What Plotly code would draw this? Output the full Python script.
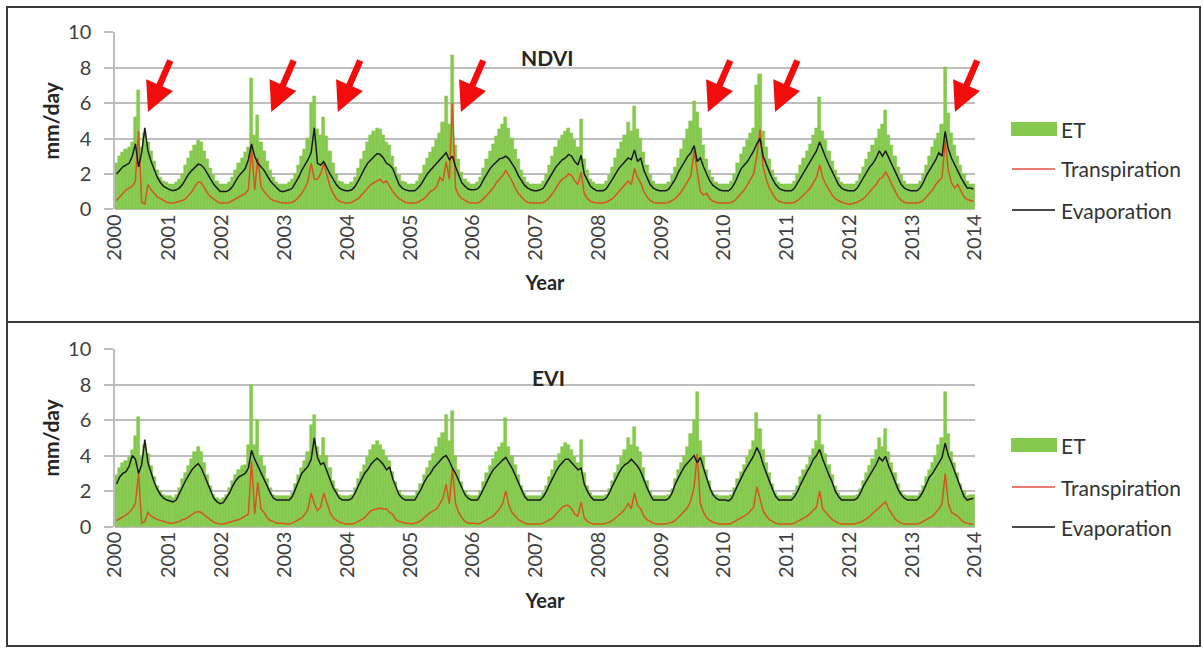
import plotly.graph_objects as go

# ---------------- data (8-day-ish composites) ----------------
year_labels = ["2000", "2001", "2002", "2003", "2004", "2005", "2006", "2007",
               "2008", "2009", "2010", "2011", "2012", "2013", "2014"]
points_per_year = [17, 17, 20, 20, 20, 20, 20, 20, 20, 20, 20, 20, 20, 20]

ndvi_et = [
    2.6, 3.0, 3.2, 3.4, 3.5, 3.8, 5.2, 6.7, 3.5, 4.3, 3.8, 3.3, 2.7, 2.2, 1.8, 1.6, 1.5,
    1.4, 1.4, 1.5, 1.7, 2.0, 2.5, 2.9, 3.3, 3.6, 3.9, 3.8, 3.3, 2.8, 2.3, 1.9, 1.6, 1.4,
    1.4, 1.4, 1.5, 1.8, 2.2, 2.6, 2.9, 3.2, 3.5, 7.4, 4.2, 5.3, 3.8, 3.3, 2.7, 2.2, 1.8, 1.5, 1.4, 1.4,
    1.4, 1.5, 1.7, 2.0, 2.5, 3.0, 3.4, 4.0, 6.0, 6.4, 4.5, 4.2, 5.2, 4.1, 3.3, 2.6, 2.0, 1.6, 1.5, 1.4,
    1.4, 1.5, 1.8, 2.3, 2.8, 3.3, 3.8, 4.2, 4.4, 4.6, 4.5, 4.2, 3.8, 3.6, 3.0, 2.4, 1.9, 1.6, 1.5, 1.4,
    1.4, 1.4, 1.6, 2.0, 2.5, 2.9, 3.2, 3.5, 3.9, 4.3, 4.9, 6.4, 4.8, 8.7, 3.6, 2.8, 2.1, 1.7, 1.5, 1.4,
    1.4, 1.5, 1.8, 2.3, 2.8, 3.3, 3.7, 4.1, 4.5, 4.8, 5.2, 4.6, 4.0, 3.4, 2.8, 2.2, 1.8, 1.5, 1.4, 1.4,
    1.4, 1.4, 1.6, 2.0, 2.5, 3.0, 3.5, 3.9, 4.2, 4.4, 4.6, 4.3, 3.9, 3.5, 5.1, 2.8, 2.2, 1.7, 1.5, 1.4,
    1.4, 1.4, 1.6, 1.9, 2.4, 2.9, 3.4, 3.8, 4.2, 4.9, 4.4, 5.8, 4.5, 4.0, 3.2, 2.5, 1.9, 1.6, 1.4, 1.4,
    1.4, 1.4, 1.5, 1.9, 2.4, 2.9, 3.4, 3.9, 4.5, 5.0, 6.1, 5.5, 4.6, 3.6, 2.8, 2.2, 1.8, 1.5, 1.4, 1.4,
    1.4, 1.4, 1.6, 2.0, 2.6, 3.1, 3.5, 3.9, 4.3, 4.6, 7.0, 7.6, 4.4, 3.5, 2.8, 2.2, 1.8, 1.5, 1.4, 1.4,
    1.4, 1.4, 1.6, 2.0, 2.5, 2.9, 3.3, 3.7, 4.2, 4.6, 6.3, 4.4, 3.9, 3.3, 2.7, 2.2, 1.8, 1.5, 1.4, 1.4,
    1.4, 1.4, 1.6, 2.0, 2.4, 2.8, 3.2, 3.6, 4.0, 4.5, 4.8, 5.6, 4.2, 3.6, 3.0, 2.4, 1.9, 1.6, 1.4, 1.4,
    1.4, 1.4, 1.6, 2.0, 2.5, 3.0, 3.5, 3.9, 4.3, 4.8, 8.0, 5.4, 4.3, 3.6, 3.0, 2.5, 2.0, 1.6, 1.4, 1.4,
]
ndvi_t = [
    0.5, 0.7, 0.9, 1.1, 1.2, 1.3, 1.6, 4.4, 0.4, 0.3, 1.4, 1.1, 0.9, 0.7, 0.6, 0.5, 0.4,
    0.35, 0.35, 0.4, 0.45, 0.5, 0.6, 0.8, 1.0, 1.3, 1.55, 1.5, 1.2, 0.9, 0.7, 0.55, 0.45, 0.35,
    0.35, 0.35, 0.4, 0.5, 0.6, 0.7, 0.8, 0.9, 1.1, 3.5, 1.1, 2.9, 1.3, 1.0, 0.8, 0.6, 0.5, 0.45, 0.4, 0.35,
    0.35, 0.35, 0.4, 0.5, 0.7, 0.9, 1.2, 1.6, 2.6, 1.7, 1.7, 2.0, 2.6, 1.9, 1.3, 0.9, 0.6, 0.45, 0.4, 0.35,
    0.35, 0.4, 0.5, 0.6, 0.8, 1.0, 1.2, 1.4, 1.5, 1.6, 1.7, 1.5, 1.6, 1.3, 1.0, 0.8, 0.6, 0.5, 0.4, 0.35,
    0.35, 0.35, 0.4, 0.5, 0.6, 0.8, 1.0, 1.1, 1.3, 1.8, 1.6, 2.7, 1.7, 6.0, 1.2, 0.8, 0.6, 0.5, 0.4, 0.35,
    0.35, 0.35, 0.45, 0.6, 0.8, 1.0, 1.2, 1.5, 1.7, 1.9, 2.2, 1.9, 1.6, 1.2, 0.9, 0.7, 0.5, 0.4, 0.35, 0.35,
    0.35, 0.35, 0.4, 0.5, 0.7, 0.9, 1.2, 1.5, 1.7, 1.8, 2.0, 1.9, 1.6, 1.4, 2.1, 0.9, 0.6, 0.45, 0.4, 0.35,
    0.35, 0.35, 0.4, 0.5, 0.6, 0.8, 1.0, 1.2, 1.4, 1.6, 1.4, 2.3, 1.8, 1.5, 1.0, 0.7, 0.5, 0.4, 0.35, 0.35,
    0.35, 0.35, 0.4, 0.5, 0.6, 0.8, 1.0, 1.3, 1.6, 1.9, 3.3, 2.0, 1.0, 0.8, 0.9, 0.6, 0.45, 0.4, 0.35, 0.35,
    0.35, 0.35, 0.4, 0.5, 0.7, 0.9, 1.1, 1.4, 1.7, 2.0, 3.0, 4.5, 2.4, 1.7, 1.2, 0.9, 0.6, 0.45, 0.4, 0.35,
    0.35, 0.35, 0.4, 0.5, 0.65, 0.8, 1.0, 1.2, 1.5, 1.8, 2.5, 1.8, 1.4, 1.1, 0.8, 0.6, 0.5, 0.4, 0.35, 0.3,
    0.3, 0.35, 0.4, 0.5, 0.6, 0.8, 1.0, 1.2, 1.4, 1.7, 1.8, 2.1, 1.8, 1.4, 1.0, 0.7, 0.5, 0.4, 0.35, 0.35,
    0.35, 0.35, 0.4, 0.5, 0.7, 0.9, 1.1, 1.4, 1.6, 1.8, 3.9, 2.2, 1.5, 1.2, 1.4, 1.0, 0.7, 0.55, 0.5, 0.45,
]
ndvi_e = [
    2.0, 2.2, 2.4, 2.5, 2.6, 3.0, 3.7, 2.4, 3.2, 4.6, 3.3, 2.7, 2.2, 1.8, 1.5, 1.3, 1.2,
    1.1, 1.05, 1.1, 1.2, 1.4, 1.7, 2.0, 2.2, 2.4, 2.55, 2.5, 2.3, 2.0, 1.7, 1.4, 1.2, 1.0,
    1.0, 1.0, 1.1, 1.3, 1.6, 1.9, 2.1, 2.3, 2.8, 3.7, 3.0, 2.6, 2.4, 2.2, 1.9, 1.6, 1.4, 1.2, 1.05, 1.0,
    1.05, 1.1, 1.2, 1.5, 1.8, 2.2, 2.5, 2.8, 3.2, 4.6, 2.6, 2.5, 2.7, 2.3, 2.0, 1.7, 1.4, 1.2, 1.1, 1.05,
    1.05, 1.1, 1.3, 1.6, 2.0, 2.3, 2.6, 2.8, 3.0, 3.15, 3.1, 2.9, 2.6, 2.5, 2.3, 1.8, 1.4, 1.2, 1.1, 1.05,
    1.05, 1.05, 1.2, 1.4, 1.7, 2.0, 2.2, 2.4, 2.6, 2.8, 3.0, 3.2, 2.8, 3.0, 2.4, 1.9, 1.5, 1.3, 1.15, 1.1,
    1.1, 1.15, 1.35, 1.7, 2.0, 2.3, 2.5, 2.7, 2.85, 2.9, 3.0, 2.85, 2.6, 2.3, 1.9, 1.6, 1.35, 1.2, 1.1, 1.05,
    1.05, 1.1, 1.2, 1.5, 1.8, 2.1, 2.4, 2.6, 2.8, 2.9, 3.1, 3.0, 2.7, 2.5, 3.05, 2.0, 1.6, 1.3, 1.15, 1.05,
    1.05, 1.05, 1.15, 1.4, 1.7, 2.0, 2.3, 2.5, 2.7, 2.9, 2.8, 3.35, 2.7, 2.9, 2.2, 1.8, 1.4, 1.2, 1.1, 1.05,
    1.05, 1.05, 1.15, 1.4, 1.7, 2.1, 2.4, 2.7, 3.0, 3.2, 3.6, 2.7, 2.9, 2.4, 2.0, 1.6, 1.35, 1.2, 1.1, 1.05,
    1.05, 1.05, 1.2, 1.5, 1.9, 2.3, 2.5, 2.7, 3.0, 3.3, 3.7, 4.0, 3.0, 2.5, 2.1, 1.7, 1.4, 1.2, 1.1, 1.05,
    1.05, 1.05, 1.2, 1.5, 1.8, 2.1, 2.4, 2.7, 3.0, 3.3, 3.8, 3.3, 2.9, 2.5, 2.1, 1.7, 1.4, 1.2, 1.1, 1.05,
    1.05, 1.05, 1.2, 1.5, 1.8, 2.1, 2.4, 2.6, 2.9, 3.3, 3.0, 3.3, 2.9, 2.5, 2.1, 1.7, 1.4, 1.2, 1.1, 1.05,
    1.05, 1.05, 1.2, 1.5, 1.9, 2.2, 2.5, 2.8, 3.2, 3.0, 4.4, 3.4, 2.9, 2.5, 2.1, 1.8, 1.5, 1.2, 1.2, 1.15,
]

evi_et = [
    2.9, 3.3, 3.6, 3.7, 3.9, 4.3, 5.1, 6.2, 4.0, 4.6, 4.1, 3.4, 2.8, 2.3, 2.0, 1.8, 1.7,
    1.7, 1.6, 1.8, 2.2, 2.7, 3.0, 3.4, 3.8, 4.2, 4.5, 4.2, 3.6, 2.9, 2.3, 1.8, 1.6, 1.5,
    1.6, 1.8, 2.2, 2.6, 2.9, 3.2, 3.4, 3.5, 4.6, 8.0, 4.6, 6.0, 4.0, 3.4, 2.7, 2.2, 1.8, 1.7, 1.7, 1.7,
    1.7, 1.7, 1.9, 2.4, 2.9, 3.3, 3.7, 4.2, 5.7, 6.3, 4.5, 4.0, 5.0, 4.0, 3.3, 2.6, 2.1, 1.8, 1.7, 1.7,
    1.7, 1.8, 2.2, 2.7, 3.1, 3.5, 3.9, 4.3, 4.6, 4.8, 4.6, 4.3, 3.9, 3.7, 3.1, 2.5, 2.0, 1.8, 1.7, 1.7,
    1.7, 1.7, 2.0, 2.4, 2.9, 3.3, 3.7, 4.1, 4.5, 5.0, 5.3, 6.3, 4.8, 6.5, 4.0, 3.2, 2.5, 2.0, 1.8, 1.7,
    1.7, 1.7, 2.0, 2.5, 3.0, 3.4, 3.8, 4.2, 4.5, 4.7, 6.1, 4.5, 4.0, 3.5, 2.9, 2.3, 1.9, 1.7, 1.7, 1.7,
    1.7, 1.7, 1.9, 2.3, 2.8, 3.2, 3.7, 4.1, 4.5, 4.7, 4.6, 4.3, 3.9, 3.6, 4.9, 3.0, 2.3, 1.9, 1.7, 1.7,
    1.7, 1.7, 1.8, 2.1, 2.6, 3.0, 3.5, 3.9, 4.3, 5.0, 4.6, 5.6, 4.5, 4.2, 3.3, 2.6, 2.0, 1.7, 1.7, 1.7,
    1.7, 1.7, 1.8, 2.1, 2.7, 3.2, 3.6, 4.0, 4.5, 5.2, 6.0, 7.6, 4.8, 4.0, 3.2, 2.6, 2.0, 1.8, 1.7, 1.7,
    1.7, 1.7, 1.8, 2.2, 2.7, 3.1, 3.5, 3.9, 4.3, 4.8, 6.4, 5.5, 4.3, 3.6, 3.0, 2.4, 1.9, 1.7, 1.7, 1.7,
    1.7, 1.7, 1.9, 2.3, 2.8, 3.2, 3.5, 3.9, 4.4, 4.8, 6.3, 4.6, 4.1, 3.5, 2.9, 2.3, 1.9, 1.7, 1.7, 1.7,
    1.7, 1.7, 1.8, 2.1, 2.6, 3.0, 3.4, 3.8, 4.3, 5.0, 4.5, 5.5, 4.2, 3.6, 3.0, 2.4, 2.0, 1.8, 1.7, 1.7,
    1.7, 1.7, 1.9, 2.3, 2.8, 3.2, 3.6, 4.0, 4.6, 5.0, 7.6, 5.2, 4.2, 3.6, 3.0, 2.4, 2.0, 1.7, 1.8, 1.8,
]
evi_t = [
    0.35, 0.45, 0.55, 0.65, 0.8, 1.0, 1.3, 3.0, 0.2, 0.3, 0.8, 0.6, 0.5, 0.4, 0.35, 0.3, 0.25,
    0.2, 0.2, 0.25, 0.3, 0.4, 0.45, 0.55, 0.7, 0.8, 0.85, 0.8, 0.65, 0.5, 0.35, 0.25, 0.2, 0.15,
    0.15, 0.2, 0.25, 0.3, 0.35, 0.4, 0.5, 0.6, 0.7, 3.7, 0.7, 2.5, 1.0, 0.8, 0.5, 0.35, 0.3, 0.2, 0.2, 0.2,
    0.15, 0.15, 0.2, 0.3, 0.4, 0.5, 0.7, 1.0, 1.9, 1.3, 0.9, 1.1, 1.9, 1.3, 0.8, 0.5, 0.35, 0.25, 0.2, 0.15,
    0.15, 0.15, 0.2, 0.3, 0.4, 0.5, 0.7, 0.9, 0.95, 1.0, 1.05, 1.0, 1.0, 0.8, 0.7, 0.4, 0.3, 0.25, 0.2, 0.2,
    0.15, 0.2, 0.25, 0.35, 0.5, 0.7, 0.8, 0.9, 1.0, 1.3, 1.6, 2.4, 1.3, 3.3, 1.3, 0.8, 0.5, 0.3, 0.2, 0.2,
    0.2, 0.15, 0.2, 0.3, 0.4, 0.5, 0.6, 0.8, 1.0, 1.3, 2.0, 1.2, 0.8, 0.6, 0.4, 0.3, 0.2, 0.15, 0.15, 0.15,
    0.15, 0.15, 0.2, 0.3, 0.4, 0.5, 0.7, 0.9, 1.1, 1.2, 1.2, 1.0, 0.7, 0.6, 1.4, 0.5, 0.3, 0.2, 0.15, 0.15,
    0.15, 0.15, 0.2, 0.25, 0.35, 0.5, 0.6, 0.8, 1.0, 1.3, 1.0, 1.9, 1.2, 1.0, 0.6, 0.4, 0.3, 0.2, 0.15, 0.15,
    0.15, 0.15, 0.2, 0.25, 0.35, 0.5, 0.7, 0.9, 1.1, 1.5, 2.2, 4.1, 1.3, 0.8, 0.5, 0.35, 0.25, 0.2, 0.15, 0.15,
    0.15, 0.15, 0.2, 0.3, 0.4, 0.5, 0.6, 0.7, 0.9, 1.1, 2.25, 1.6, 0.9, 0.6, 0.4, 0.3, 0.2, 0.15, 0.15, 0.15,
    0.15, 0.15, 0.2, 0.3, 0.4, 0.5, 0.6, 0.75, 0.9, 1.1, 2.0, 1.0, 0.8, 0.6, 0.4, 0.3, 0.2, 0.15, 0.15, 0.15,
    0.15, 0.15, 0.2, 0.25, 0.35, 0.45, 0.6, 0.75, 0.9, 1.1, 1.2, 1.4, 1.0, 0.7, 0.45, 0.3, 0.2, 0.15, 0.15, 0.15,
    0.15, 0.15, 0.2, 0.3, 0.4, 0.5, 0.6, 0.8, 1.0, 1.3, 3.0, 1.3, 0.8, 0.7, 0.6, 0.4, 0.25, 0.2, 0.15, 0.15,
]
evi_e = [
    2.4, 2.8, 3.0, 3.1, 3.4, 4.0, 3.8, 3.0, 3.5, 4.9, 3.6, 3.0, 2.5, 2.1, 1.8, 1.6, 1.5,
    1.45, 1.4, 1.5, 1.9, 2.3, 2.6, 2.9, 3.2, 3.4, 3.55, 3.3, 2.9, 2.4, 2.0, 1.6, 1.4, 1.3,
    1.35, 1.6, 1.9, 2.3, 2.6, 2.8, 2.9, 3.0, 3.3, 4.3, 3.8, 3.4, 3.1, 2.7, 2.3, 1.9, 1.6, 1.5, 1.5, 1.5,
    1.5, 1.5, 1.7, 2.1, 2.6, 3.0, 3.2, 3.4, 3.8, 5.0, 3.9, 3.5, 3.6, 3.1, 2.6, 2.2, 1.9, 1.6, 1.5, 1.5,
    1.5, 1.6, 1.9, 2.3, 2.7, 3.0, 3.2, 3.5, 3.7, 3.85, 3.7, 3.5, 3.2, 3.35, 2.7, 2.2, 1.8, 1.6, 1.5, 1.5,
    1.5, 1.5, 1.8, 2.1, 2.5, 2.8, 3.0, 3.3, 3.5, 3.7, 3.9, 4.0, 3.7, 3.3, 3.0, 2.6, 2.2, 1.8, 1.6, 1.5,
    1.5, 1.5, 1.8, 2.2, 2.6, 2.9, 3.2, 3.4, 3.6, 3.75, 3.9, 3.6, 3.3, 2.9, 2.5, 2.0, 1.7, 1.5, 1.5, 1.5,
    1.5, 1.5, 1.7, 2.0, 2.4, 2.8, 3.1, 3.4, 3.6, 3.8, 3.8, 3.6, 3.4, 3.2, 3.3, 2.4, 2.0, 1.7, 1.5, 1.5,
    1.5, 1.5, 1.6, 1.9, 2.3, 2.7, 3.0, 3.3, 3.5, 3.6, 3.8, 3.6, 3.4, 3.1, 2.6, 2.2, 1.8, 1.5, 1.5, 1.5,
    1.5, 1.5, 1.6, 1.9, 2.4, 2.8, 3.1, 3.4, 3.6, 3.8, 4.0, 3.6, 3.9, 3.3, 2.7, 2.2, 1.8, 1.6, 1.5, 1.5,
    1.5, 1.45, 1.6, 2.0, 2.4, 2.8, 3.1, 3.4, 3.7, 4.0, 4.45, 4.1, 3.5, 3.0, 2.6, 2.1, 1.7, 1.5, 1.5, 1.5,
    1.5, 1.5, 1.7, 2.0, 2.4, 2.8, 3.1, 3.4, 3.8, 4.0, 4.35, 3.8, 3.3, 2.9, 2.5, 2.0, 1.7, 1.5, 1.5, 1.5,
    1.5, 1.5, 1.6, 1.9, 2.3, 2.6, 2.9, 3.2, 3.5, 3.9, 3.7, 3.95, 3.4, 3.0, 2.5, 2.1, 1.8, 1.6, 1.5, 1.5,
    1.5, 1.5, 1.7, 2.0, 2.4, 2.8, 3.0, 3.3, 3.6, 3.9, 4.7, 4.0, 3.6, 3.1, 2.6, 2.1, 1.7, 1.5, 1.55, 1.6,
]

# red arrows (top panel): tip position in composite-index units and mm/day
arrow_tip_x = [10.5, 49.8, 71.0, 110.2, 188.9, 210.3, 267.6]
arrow_tip_y = 5.5

# ---------------- derived axis positions ----------------
n = len(ndvi_et)
x = [i + 0.5 for i in range(n)]
year_starts = [0]
for c in points_per_year:
    year_starts.append(year_starts[-1] + c)

W, H = 1203, 648
GREEN = "#86C94F"
RED = "#D6561F"
BLACK = "#1B1B1B"
GRID = "#BEBEBE"
FONT = "Lato, 'Open Sans', sans-serif"


def px_x(p):
    return p / W


def px_y(p):
    return 1 - p / H


fig = go.Figure()
panels = [
    ("x", "y", ndvi_et, ndvi_t, ndvi_e),
    ("x2", "y2", evi_et, evi_t, evi_e),
]
for xa, ya, et, tr, ev in panels:
    fig.add_trace(go.Bar(x=x, y=et, width=1, name="ET", xaxis=xa, yaxis=ya,
                         marker=dict(color=GREEN, line=dict(width=0.6, color=GREEN)),
                         showlegend=False, hoverinfo="x+y"))
    fig.add_trace(go.Scatter(x=x, y=tr, mode="lines", name="Transpiration", xaxis=xa, yaxis=ya,
                             line=dict(color=RED, width=1.5), showlegend=False))
    fig.add_trace(go.Scatter(x=x, y=ev, mode="lines", name="Evaporation", xaxis=xa, yaxis=ya,
                             line=dict(color=BLACK, width=1.5), showlegend=False))

xdom = [px_x(115), px_x(975)]
ydoms = [[px_y(209.3), px_y(32.3)], [px_y(526.7), px_y(349)]]

common_x = dict(domain=xdom, range=[0, n], tickmode="array", tickvals=year_starts,
                ticktext=year_labels, tickangle=-90, showgrid=False, zeroline=False,
                showline=False, ticks="", automargin=False,
                tickfont=dict(family=FONT, size=20, color="#404040"),
                title=dict(text="<b>Year</b>", font=dict(family=FONT, size=20, color="#262626"),
                           standoff=16))
common_y = dict(range=[0, 10], dtick=2, tick0=0, showgrid=True, gridcolor=GRID, gridwidth=1.5,
                zeroline=True, zerolinecolor=GRID, zerolinewidth=1.5,
                showline=True, linecolor=GRID, linewidth=1.5, automargin=False,
                ticks="outside", ticklen=9, tickwidth=1.5, tickcolor=GRID, ticklabelstandoff=9,
                tickfont=dict(family=FONT, size=20, color="#404040"),
                title=dict(text="<b>mm/day</b>", font=dict(family=FONT, size=21, color="#262626"),
                           standoff=3))

fig.update_layout(
    width=W, height=H, margin=dict(l=0, r=0, t=0, b=0, autoexpand=False),
    paper_bgcolor="white", plot_bgcolor="white", bargap=0, barmode="overlay",
    xaxis=dict(anchor="y", **common_x),
    yaxis=dict(anchor="x", domain=ydoms[0], **common_y),
    xaxis2=dict(anchor="y2", **common_x),
    yaxis2=dict(anchor="x2", domain=ydoms[1], **common_y),
    showlegend=False,
)

shapes = []
annotations = []
# panel frames
for (t, b) in [(7, 322), (322, 646)]:
    shapes.append(dict(type="rect", xref="paper", yref="paper",
                       x0=px_x(7), x1=px_x(1200), y0=px_y(b), y1=px_y(t),
                       line=dict(color="#3A3A3A", width=2)))

# panel titles
annotations.append(dict(text="<b>NDVI</b>", x=px_x(547), y=px_y(58), xref="paper", yref="paper",
                        xanchor="center", yanchor="middle", showarrow=False,
                        font=dict(family=FONT, size=21, color="#262626")))
annotations.append(dict(text="<b>EVI</b>", x=px_x(548), y=px_y(377), xref="paper", yref="paper",
                        xanchor="center", yanchor="middle", showarrow=False,
                        font=dict(family=FONT, size=21, color="#262626")))

# manual legends (one per panel)
for ys in [(129, 169, 210), (445, 487, 527)]:
    shapes.append(dict(type="rect", xref="paper", yref="paper",
                       x0=px_x(1011), x1=px_x(1057), y0=px_y(ys[0] + 7), y1=px_y(ys[0] - 7),
                       fillcolor=GREEN, line=dict(width=0)))
    shapes.append(dict(type="line", xref="paper", yref="paper",
                       x0=px_x(1012), x1=px_x(1055), y0=px_y(ys[1]), y1=px_y(ys[1]),
                       line=dict(color="#EE7A6E", width=2)))
    shapes.append(dict(type="line", xref="paper", yref="paper",
                       x0=px_x(1012), x1=px_x(1055), y0=px_y(ys[2]), y1=px_y(ys[2]),
                       line=dict(color="#4A4A4A", width=2)))
    for label, yy in zip(["ET", "Transpiration", "Evaporation"], ys):
        annotations.append(dict(text=label, x=px_x(1059), y=px_y(yy), xref="paper", yref="paper",
                                xanchor="left", yanchor="middle", showarrow=False,
                                font=dict(family=FONT, size=21, color="#333333")))

# red arrows
for ax_ in arrow_tip_x:
    annotations.append(dict(x=ax_, y=arrow_tip_y, xref="x", yref="y", text="",
                            showarrow=True, arrowhead=2, arrowsize=0.9, arrowwidth=6.5,
                            arrowcolor="#F20D0D", ax=23, ay=-53))

fig.update_layout(shapes=shapes, annotations=annotations)
fig.write_html("out.html",
               config={"displayModeBar": False},
               post_script="document.body.style.margin='0px';"
                           "document.body.style.overflow='hidden';")
